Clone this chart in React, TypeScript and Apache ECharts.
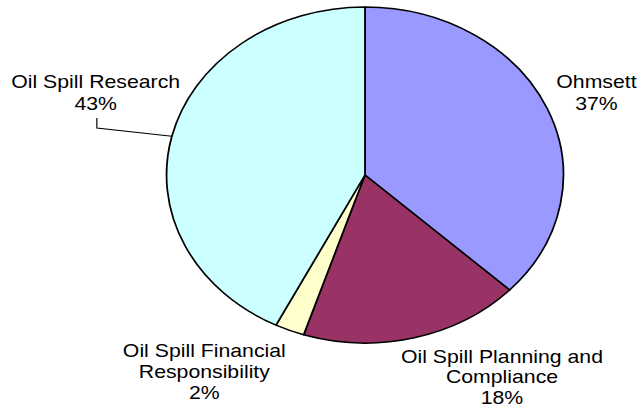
import React, { useEffect, useRef } from "react";
import * as echarts from "echarts";

const categories = [
  "Ohmsett",
  "Oil Spill Planning and\nCompliance",
  "Oil Spill Financial\nResponsibility",
  "Oil Spill Research",
];
const values = [37.0, 18.0, 2.4, 42.6];
const colors = ["#9999FF", "#993366", "#FFFFCC", "#CCFFFF"];

const W = 541;
const H = 408;
const SX = 639 / W;

// label block centres (unscaled coordinates)
const labelX = [505, 425, 173, 81];
const labelY = [93, 377, 372, 93];
const labelLH = [22, 20.5, 21, 22];

export default function App() {
  const ref = useRef<HTMLDivElement>(null);
  useEffect(() => {
    if (!ref.current) return;
    const chart = echarts.init(ref.current, null, { renderer: "svg" });
    chart.setOption({
      animation: false,
      backgroundColor: "#ffffff",
      series: [
        {
          type: "pie",
          center: [309, 175],
          radius: 168,
          startAngle: 90,
          clockwise: true,
          avoidLabelOverlap: false,
          itemStyle: { borderColor: "#000000", borderWidth: 1.5 },
          label: {
            show: true,
            position: "outside",
            formatter: (p: any) => `${p.name}\n${Math.round(p.percent)}%`,
            fontFamily: "'Liberation Sans', Arial, sans-serif",
            fontSize: 18,
            lineHeight: 22,
            color: "#000000",
            align: "center",
          },
          labelLine: {
            show: true,
            length: 10,
            length2: 10,
            lineStyle: { color: "#000000", width: 1 },
          },
          labelLayout: (params: any) => {
            const i = params.dataIndex;
            const out: any = {
              x: labelX[i],
              y: labelY[i],
              align: "center",
              verticalAlign: "middle",
            };
            if (i === 3 && params.labelLinePoints && params.labelLinePoints.length) {
              out.labelLinePoints = [
                params.labelLinePoints[0],
                [82, 128],
                [82, 118],
              ];
            }
            return out;
          },
          data: categories.map((c, i) => ({
            name: c,
            value: values[i],
            itemStyle: { color: colors[i] },
            label: { lineHeight: labelLH[i] },
            labelLine: { show: i === 3 },
          })),
        },
      ],
    });
    return () => chart.dispose();
  }, []);
  return (
    <div
      style={{
        position: "absolute",
        left: 0,
        top: 0,
        width: 639,
        height: H,
        overflow: "hidden",
        background: "#fff",
      }}
    >
      <div
        ref={ref}
        style={{
          width: W,
          height: H,
          transform: `scaleX(${SX})`,
          transformOrigin: "0 0",
        }}
      />
    </div>
  );
}
